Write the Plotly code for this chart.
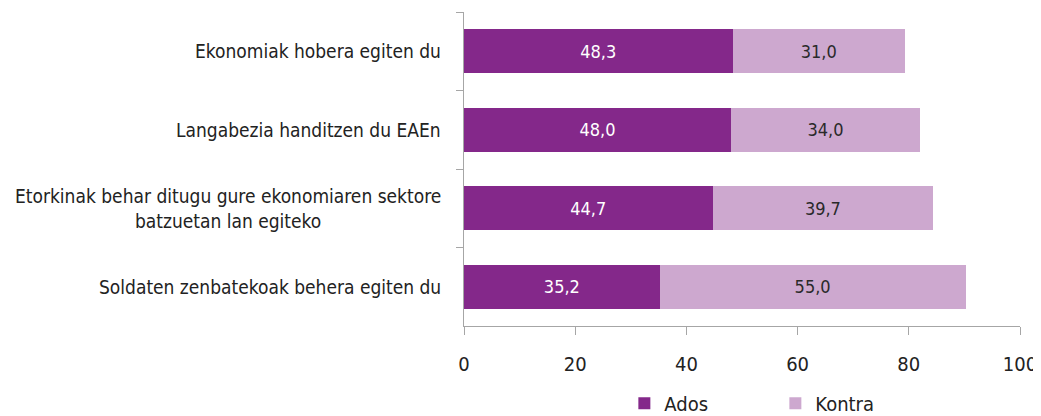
import plotly.graph_objects as go

categories = [
    "Ekonomiak hobera egiten du",
    "Langabezia handitzen du EAEn",
    "Etorkinak behar ditugu gure ekonomiaren sektore<br>batzuetan lan egiteko",
    "Soldaten zenbatekoak behera egiten du",
]
ados = [48.3, 48.0, 44.7, 35.2]
kontra = [31.0, 34.0, 39.7, 55.0]
x_ticks = [0, 20, 40, 60, 80, 100]

FONT = "DejaVu Sans Condensed, Liberation Sans Narrow, sans-serif"

def fmt(v):
    return f"{v:.1f}".replace(".", ",")

fig = go.Figure()
fig.add_trace(go.Bar(
    y=categories, x=ados, name="Ados", orientation="h",
    marker=dict(color="#84288A", line=dict(width=0)),
    text=[fmt(v) for v in ados], textposition="inside", insidetextanchor="middle",
    textfont=dict(color="white", size=18, family=FONT),
))
fig.add_trace(go.Bar(
    y=categories, x=kontra, name="Kontra", orientation="h",
    marker=dict(color="#CDA8CF", line=dict(width=0)),
    text=[fmt(v) for v in kontra], textposition="inside", insidetextanchor="middle",
    textfont=dict(color="#2a2a2a", size=18, family=FONT),
))

# Category labels as annotations so multi-line labels are centred line by line
for cat in categories:
    fig.add_annotation(
        x=0, xref="paper", xshift=-21, xanchor="right",
        y=cat, yref="y", yanchor="middle",
        text=cat, showarrow=False, align="center",
        font=dict(size=19, color="#222222", family=FONT),
    )

fig.update_layout(
    barmode="stack",
    bargap=0.44,
    width=1041, height=416,
    margin=dict(l=456, r=29, t=4, b=98),
    paper_bgcolor="white", plot_bgcolor="white",
    font=dict(family=FONT, size=19, color="#222222"),
    uniformtext=dict(minsize=8, mode="show"),
    legend=dict(
        orientation="h", x=0.56, xanchor="center",
        yref="container", y=0.05, yanchor="middle",
        font=dict(size=20, color="#222222"),
        entrywidth=106, entrywidthmode="pixels",
        traceorder="normal",
    ),
    xaxis=dict(
        range=[0, 100], tickvals=x_ticks, showgrid=False, zeroline=False,
        showline=True, linecolor="#A6A6A6", linewidth=1,
        ticks="outside", ticklen=8, tickcolor="#A6A6A6",
        tickfont=dict(size=20, color="#222222"), ticklabelstandoff=12,
    ),
    yaxis=dict(
        autorange="reversed", showgrid=False, zeroline=False,
        showline=True, linecolor="#A6A6A6", linewidth=1,
        ticks="outside", ticklen=7, tickcolor="#A6A6A6", tickson="boundaries",
        showticklabels=False,
    ),
)

fig.write_html("out.html")
